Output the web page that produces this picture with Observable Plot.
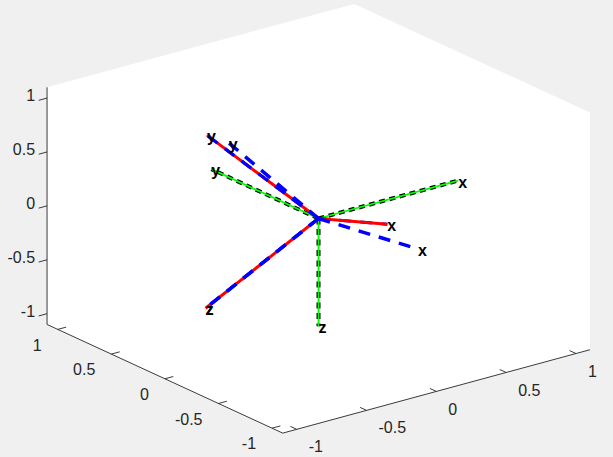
<!DOCTYPE html>
<html><head><meta charset="utf-8">
<script src="https://cdn.jsdelivr.net/npm/d3@7"></script>
<script src="https://cdn.jsdelivr.net/npm/@observablehq/plot@0.6"></script>
<style>html,body{margin:0;padding:0;background:#f0f0f0;} #chart svg{display:block}</style>
</head><body><div id="chart"></div>
<script>
// ---- data ----
const axisLimit = 1.1;                       // axes run from -1.1 to 1.1 on x, y, z
const tickValues = [-1, -0.5, 0, 0.5, 1];
const tickLabels = ["-1", "-0.5", "0", "0.5", "1"];
const viewAz = -37.5, viewEl = 30;           // MATLAB default 3-D view
const axisNames = ["x", "y", "z"];
// end points of the unit axes of each frame (world coordinates)
const frameRed   = [[-0.19, -0.89, 0.42], [-0.50, 0.39, 0.77], [-0.87, -0.08, -0.49]];
const frameBlue  = [[-0.04, -0.98, 0.18], [-0.55, 0.12, 0.84], [-0.87, -0.08, -0.49]];
const frameGreen = [[1, 0, 0], [0, 1, 0], [0, 0, -1]];
const origin = [0, 0, 0];

// ---- projection ----
const deg = Math.PI / 180;
const az = viewAz * deg, el = viewEl * deg;
const R = [Math.cos(az), Math.sin(az), 0];
const U = [-Math.sin(el) * Math.sin(az), Math.sin(el) * Math.cos(az), Math.cos(el)];
const dot = (a, b) => a[0]*b[0] + a[1]*b[1] + a[2]*b[2];
const P = p => ({px: dot(R, p), py: dot(U, p)});
const L = axisLimit;

// box outline (visible silhouette)
const box = [[-L, L, L], [L, L, L], [L, -L, L], [L, -L, -L], [-L, -L, -L], [-L, L, -L], [-L, L, L]].map(P);
// axis lines
const axisLines = [
  {a: [-L, -L, -L], b: [L, -L, -L]},   // x axis
  {a: [-L, L, -L], b: [-L, -L, -L]},   // y axis
  {a: [-L, L, -L], b: [-L, L, L]}      // z axis
].map(d => { const a = P(d.a), b = P(d.b); return {x1: a.px, y1: a.py, x2: b.px, y2: b.py}; });

const tl = 0.06;
const ticks = [];
const tickText = [];
tickValues.forEach((v, i) => {
  const xs = [v, -L, -L], xe = [v, -L + tl, -L];
  const ys = [-L, v, -L], ye = [-L + tl, v, -L];
  const zs = [-L, L, v], ze = [-L - tl, L, v];
  for (const [s, e, ax] of [[xs, xe, "x"], [ys, ye, "y"], [zs, ze, "z"]]) {
    const a = P(s), b = P(e);
    ticks.push({x1: a.px, y1: a.py, x2: b.px, y2: b.py});
    tickText.push({px: a.px, py: a.py, label: tickLabels[i], ax});
  }
});

function frameLinks(frame, keep = [0, 1, 2]) {
  const o = P(origin);
  return keep.map(k => { const e = P(frame[k]); return {x1: o.px, y1: o.py, x2: e.px, y2: e.py, name: axisNames[k]}; });
}
const redL = frameLinks(frameRed);
const redYZ = frameLinks(frameRed, [1, 2]);
const blueL = frameLinks(frameBlue);
const greenL = frameLinks(frameGreen);
const labels = [...redL, ...blueL, ...greenL];

const font = "'Liberation Sans', Arial, Helvetica, sans-serif";
const tickColor = "#262626";

const plot = Plot.plot({
  width: 613, height: 457,
  marginTop: 0, marginRight: 0, marginBottom: 0, marginLeft: 0,
  style: {background: "#f0f0f0", fontFamily: font},
  x: {domain: [-318 / 176, 295 / 176], range: [0, 613], axis: null},
  y: {domain: [-239 / 124.5, 218 / 124.5], range: [457, 0], axis: null},
  marks: [
    Plot.line(box, {x: "px", y: "py", fill: "white", stroke: "none"}),
    Plot.link(axisLines, {x1: "x1", y1: "y1", x2: "x2", y2: "y2", stroke: tickColor, strokeWidth: 0.9}),
    Plot.link(ticks, {x1: "x1", y1: "y1", x2: "x2", y2: "y2", stroke: tickColor, strokeWidth: 0.9}),
    Plot.text(tickText.filter(d => d.ax === "x"), {x: "px", y: "py", text: "label", textAnchor: "start", dx: 12, dy: 18, fontSize: 16, fill: tickColor}),
    Plot.text(tickText.filter(d => d.ax === "y"), {x: "px", y: "py", text: "label", textAnchor: "end", dx: -16, dy: 16, fontSize: 16, fill: tickColor}),
    Plot.text(tickText.filter(d => d.ax === "z"), {x: "px", y: "py", text: "label", textAnchor: "end", dx: -12, dy: -2, fontSize: 16, fill: tickColor}),
    // green frame with black dashed twin
    Plot.link(greenL, {x1: "x1", y1: "y1", x2: "x2", y2: "y2", stroke: "black", strokeWidth: 4, strokeDasharray: "6,4.5", strokeLinecap: "butt"}),
    Plot.link(greenL, {x1: "x1", y1: "y1", x2: "x2", y2: "y2", stroke: "#00ff00", strokeWidth: 1.8, strokeLinecap: "butt"}),
    // blue dashed twin under red, red solid, blue twin over red y/z
    Plot.link(redL, {x1: "x1", y1: "y1", x2: "x2", y2: "y2", stroke: "#0000ff", strokeWidth: 3, strokeDasharray: "12,9", strokeLinecap: "butt"}),
    Plot.link(redL, {x1: "x1", y1: "y1", x2: "x2", y2: "y2", stroke: "#ff0000", strokeWidth: 3, strokeLinecap: "butt"}),
    Plot.link(redYZ, {x1: "x1", y1: "y1", x2: "x2", y2: "y2", stroke: "#0000ff", strokeWidth: 3, strokeDasharray: "12,9", strokeLinecap: "butt"}),
    Plot.link(blueL, {x1: "x1", y1: "y1", x2: "x2", y2: "y2", stroke: "#0000ff", strokeWidth: 3.5, strokeDasharray: "12,9", strokeLinecap: "butt"}),
    Plot.text(labels, {x: "x2", y: "y2", text: "name", textAnchor: "start", dx: 0, dy: 2, fontSize: 16, fontWeight: "bold", fill: "black"})
  ]
});
document.getElementById("chart").appendChild(plot);
</script>
</body></html>
